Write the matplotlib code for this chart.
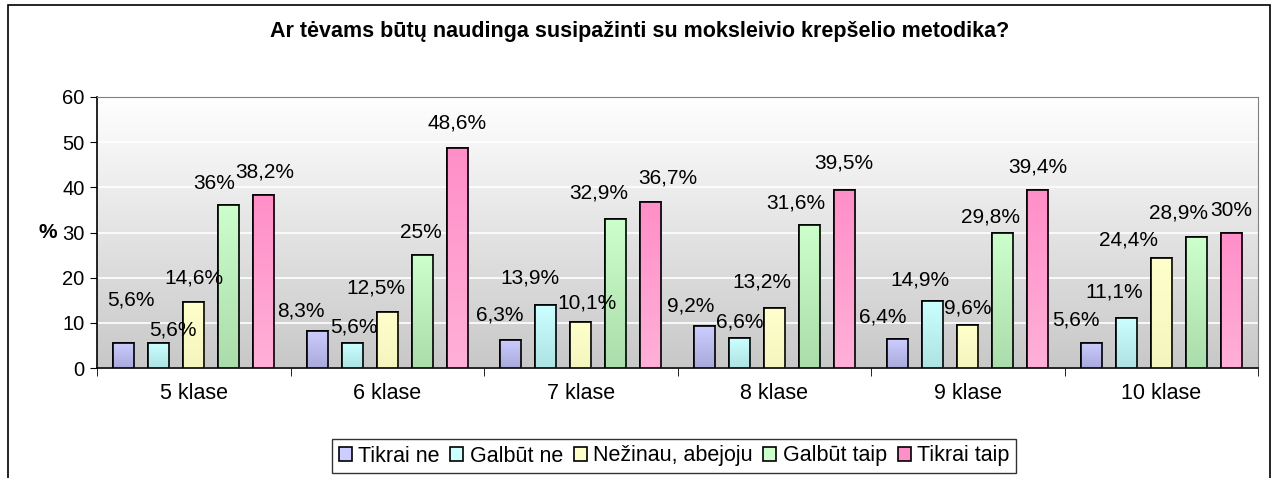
import numpy as np
import matplotlib.pyplot as plt
from matplotlib.patches import Rectangle
from matplotlib.colors import LinearSegmentedColormap

plt.rcParams['font.family'] = ['Liberation Sans', 'DejaVu Sans']

# data
classes = ['5 klase', '6 klase', '7 klase', '8 klase', '9 klase', '10 klase']
series = ['Tikrai ne', 'Galbūt ne', 'Nežinau, abejoju', 'Galbūt taip', 'Tikrai taip']
tikrai_ne = [5.6, 8.3, 6.3, 9.2, 6.4, 5.6]
galbut_ne = [5.6, 5.6, 13.9, 6.6, 14.9, 11.1]
nezinau = [14.6, 12.5, 10.1, 13.2, 9.6, 24.4]
galbut_taip = [36, 25, 32.9, 31.6, 29.8, 28.9]
tikrai_taip = [38.2, 48.6, 36.7, 39.5, 39.4, 30]
values = [tikrai_ne, galbut_ne, nezinau, galbut_taip, tikrai_taip]

# bar gradient colours (top, bottom)
colors = [('#ccccff', '#a9a9dc'), ('#ccffff', '#aee3e3'), ('#ffffcc', '#f5f5bf'),
          ('#ccffcc', '#abdcab'), ('#ff8fc8', '#ffb0d8')]

# label offsets in pixels from bar top (dx, dy), per class then series
label_off = [
    [(7, 43), (14, 13), (0, 24), (-15, 22), (1, 23)],
    [(-16, 20), (2, 16), (-11, 24), (-1, 23), (0, 25)],
    [(-11, 25), (-16, 27), (6, 19), (-17, 26), (17, 24)],
    [(-14, 20), (1, 16), (-12, 26), (-13, 22), (0, 27)],
    [(-15, 22), (-13, 21), (0, 17), (-12, 16), (0, 23)],
    [(-15, 23), (-12, 26), (-33, 18), (-18, 24), (0, 22)],
]

fig = plt.figure(figsize=(12.79, 4.78), dpi=100)
ax = fig.add_axes([97 / 1279, 110 / 478, 1161 / 1279, 271 / 478])

# outer chart frame
fig.patches.append(Rectangle((8 / 1279, -0.05), 1262 / 1279, 1.05 - 5 / 478,
                             transform=fig.transFigure, fill=False,
                             edgecolor='black', linewidth=1.2))

ax.set_xlim(-0.5, 5.5)
ax.set_ylim(0, 60)

# plot area gradient background
bg = LinearSegmentedColormap.from_list('bg', ['#c8c8c8', '#ffffff'])
ax.imshow(np.linspace(0, 1, 256).reshape(-1, 1), cmap=bg, aspect='auto',
          extent=(-0.5, 5.5, 0, 60), origin='lower', zorder=0)
ax.yaxis.grid(True, color='white', linewidth=1.2, zorder=1)
ax.set_axisbelow(True)

x = np.arange(len(classes))
pitch = 0.181
width = 0.109
for i, (name, vals) in enumerate(zip(series, values)):
    xs = x + (i - 2) * pitch
    bars = ax.bar(xs, vals, width, color=colors[i][0], edgecolor='black',
                  linewidth=1.2, label=name, zorder=3)
    cmap = LinearSegmentedColormap.from_list('c%d' % i, [colors[i][1], colors[i][0]])
    for b in bars:
        im = ax.imshow(np.linspace(0, 1, 100).reshape(-1, 1), cmap=cmap, aspect='auto',
                       extent=(b.get_x(), b.get_x() + b.get_width(), 0, b.get_height()),
                       origin='lower', zorder=3.5)
        im.set_clip_path(b)
        ax.add_patch(Rectangle((b.get_x(), 0), b.get_width(), b.get_height(),
                               fill=False, edgecolor='black', linewidth=1.2, zorder=4))
    for g, (xx, v) in enumerate(zip(xs, vals)):
        txt = ('%g' % v).replace('.', ',') + '%'
        ax.annotate(txt, (xx, v), xytext=label_off[g][i], textcoords='offset pixels',
                    ha='center', va='center', fontsize=15, zorder=5)

ax.set_xlim(-0.5, 5.5)
ax.set_ylim(0, 60)

ax.set_yticks(range(0, 61, 10))
ax.tick_params(axis='y', labelsize=14.5, length=5, direction='out', pad=4)
ax.set_xticks(x)
ax.set_xticklabels(classes)
ax.set_xticks(np.arange(-0.5, 6, 1), minor=True)
ax.tick_params(axis='x', which='major', length=0, labelsize=15.5, pad=11)
ax.tick_params(axis='x', which='minor', length=6, direction='out')

for s in ['top', 'right']:
    ax.spines[s].set_color('#808080')
for s in ['left', 'bottom']:
    ax.spines[s].set_color('black')
    ax.spines[s].set_linewidth(1.2)

ax.set_ylabel('%', fontsize=15, fontweight='bold', rotation=0, labelpad=10, va='center')

fig.text(0.5, 1 - 32 / 478, 'Ar tėvams būtų naudinga susipažinti su moksleivio krepšelio metodika?',
         ha='center', va='center', fontsize=15.5, fontweight='bold')

leg = fig.legend(loc='center', bbox_to_anchor=(674 / 1279, 1 - 456 / 478), ncol=5,
                 fontsize=15.5, frameon=True, fancybox=False, edgecolor='black',
                 handlelength=0.6, handleheight=0.6, handletextpad=0.3,
                 columnspacing=0.5, borderpad=0.3)
leg.get_frame().set_linewidth(1.0)

fig.savefig('out.png', dpi=100)
